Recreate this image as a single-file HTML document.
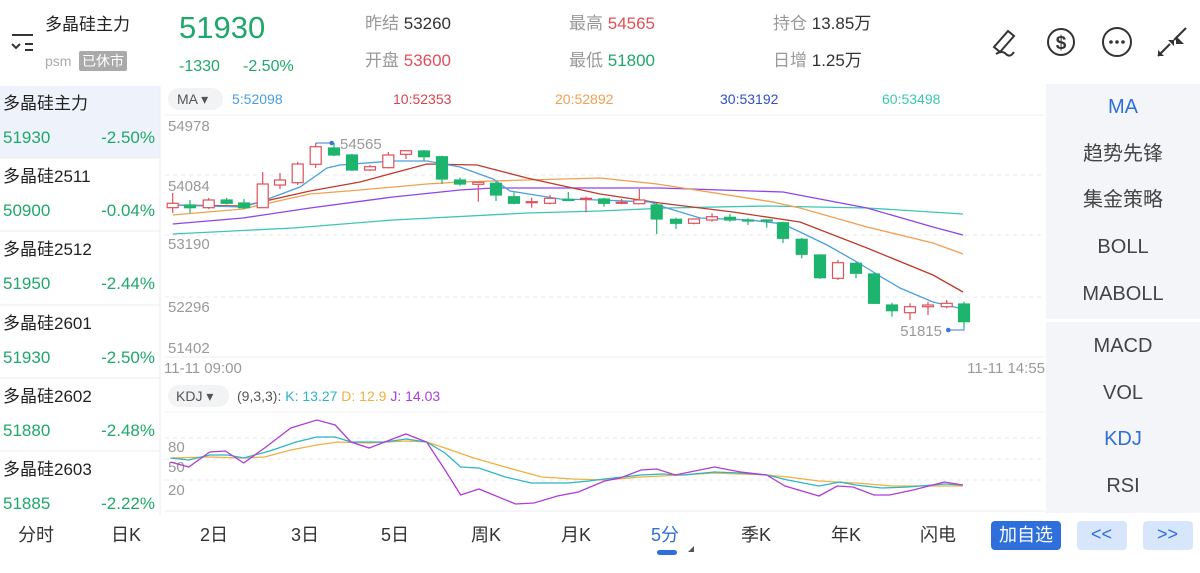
<!DOCTYPE html>
<html><head><meta charset="utf-8"><style>
*{margin:0;padding:0}
body{width:1200px;height:573px;background:#fff;overflow:hidden;position:relative;font-family:"Liberation Sans","Noto Sans CJK SC",sans-serif}
.a{position:absolute;white-space:nowrap;line-height:1}
</style></head><body>
<svg width="1200" height="573" style="position:absolute;left:0;top:0" font-family="Liberation Sans, Noto Sans CJK SC, sans-serif">
<!-- left list bg -->
<rect x="0" y="86" width="160" height="72" fill="#eef2fa"/>
<line x1="160" y1="86" x2="160" y2="515" stroke="#eceef2"/>
<g stroke="#eceef2"><line x1="0" y1="158" x2="160" y2="158"/><line x1="0" y1="231" x2="160" y2="231"/><line x1="0" y1="305" x2="160" y2="305"/><line x1="0" y1="378" x2="160" y2="378"/><line x1="0" y1="451" x2="160" y2="451"/></g>
<!-- right panel -->
<rect x="1046" y="84" width="154" height="235" fill="#f3f5f8"/>
<rect x="1046" y="322" width="154" height="191" fill="#f3f5f8"/>
<!-- grid main -->
<g stroke="#e8e8ec" stroke-dasharray="4,4"><line x1="165" y1="175" x2="1045" y2="175"/><line x1="165" y1="235" x2="1045" y2="235"/><line x1="165" y1="297" x2="1045" y2="297"/></g>
<line x1="165" y1="115" x2="1045" y2="115" stroke="#f0f0f2"/>
<line x1="165" y1="357" x2="1045" y2="357" stroke="#eceef2"/>
<!-- kdj grid -->
<line x1="165" y1="412" x2="1045" y2="412" stroke="#f0f0f2"/>
<g stroke="#e8e8ec" stroke-dasharray="4,4"><line x1="165" y1="438" x2="1045" y2="438"/><line x1="165" y1="459" x2="1045" y2="459"/><line x1="165" y1="480" x2="1045" y2="480"/></g>
<line x1="165" y1="511" x2="1045" y2="511" stroke="#eceef2"/>
<!-- MA lines -->
<g fill="none" stroke-width="1.3">
<polyline stroke="#3cc7b4" points="172.7,234 293,228 393,220 527,213 600,211 667,208 767,206 867,208 963,214"/>
<polyline stroke="#8e44ec" points="172.7,224 243,218 310,208 393,197 460,190 493,188 600,188 660,188 783,192 867,208 933,227 963,235"/>
<polyline stroke="#f0a050" points="172.7,215 243,209 260,205 310,194 360,190 427,184 460,182 527,180 600,178 657,184 773,202 800,208 867,227 933,243 963,254"/>
<polyline stroke="#c0392b" points="172.7,205 243,206 310,191 360,182 427,164 477,165 527,178 600,194 660,203 733,212 800,222 867,248 933,275 963,292"/>
<polyline stroke="#4a9fe0" points="172.7,205 243,207 260,202 300,187 327,168 340,165 393,161 427,161 460,167 493,179 510,191 560,199 600,200 650,202 667,208 700,218 750,220 783,224 800,232 827,245 857,262 883,278 900,288 933,302 963,309"/>
</g>
<!-- candles -->
<g id="c" stroke-width="1.2">
<g stroke="#e0505a" fill="#fff">
<line x1="172.7" y1="193" x2="172.7" y2="213"/><rect x="167.2" y="203.3" width="11" height="4.4"/>
<line x1="208.7" y1="198" x2="208.7" y2="209"/><rect x="203.2" y="200" width="11" height="7.7"/>
<line x1="262.7" y1="172" x2="262.7" y2="208"/><rect x="257.2" y="184" width="11" height="23.7"/>
<line x1="280" y1="173" x2="280" y2="189"/><rect x="274.5" y="180" width="11" height="5"/>
<line x1="297.7" y1="162" x2="297.7" y2="185"/><rect x="292.2" y="164" width="11" height="18.7"/>
<line x1="315.7" y1="143" x2="315.7" y2="168"/><rect x="310.2" y="146.7" width="11" height="17.6"/>
<line x1="370" y1="165" x2="370" y2="171"/><rect x="364.5" y="166.7" width="11" height="3.3"/>
<line x1="388.3" y1="152" x2="388.3" y2="168.3"/><rect x="382.8" y="155" width="11" height="12.7"/>
<line x1="406" y1="150" x2="406" y2="159"/><rect x="400.5" y="150.7" width="11" height="3.6"/>
<line x1="478.3" y1="182" x2="478.3" y2="201.7"/><rect x="472.8" y="182.3" width="11" height="2"/>
<line x1="531.7" y1="197.7" x2="531.7" y2="207.7"/><rect x="526.2" y="201.7" width="11" height="1"/>
<line x1="550" y1="195" x2="550" y2="204.3"/><rect x="544.5" y="198.3" width="11" height="5"/>
<line x1="586" y1="196.7" x2="586" y2="212.3"/><rect x="580.5" y="198.3" width="11" height="1"/>
<line x1="621.7" y1="199" x2="621.7" y2="204.3"/><rect x="616.2" y="202.3" width="11" height="1"/>
<line x1="639.3" y1="189" x2="639.3" y2="204.3"/><rect x="633.8" y="200" width="11" height="3.7"/>
<line x1="694" y1="218.3" x2="694" y2="224.3"/><rect x="688.5" y="219" width="11" height="4.3"/>
<line x1="712" y1="213.3" x2="712" y2="221.7"/><rect x="706.5" y="216.7" width="11" height="3.3"/>
<line x1="838" y1="260" x2="838" y2="280"/><rect x="832.5" y="262.7" width="11" height="15.6"/>
<line x1="910" y1="303.3" x2="910" y2="320"/><rect x="904.5" y="306.7" width="11" height="6"/>
<line x1="928" y1="301.7" x2="928" y2="315"/><rect x="922.5" y="305" width="11" height="1.7"/>
<line x1="946.7" y1="300" x2="946.7" y2="308.3"/><rect x="941.2" y="303.3" width="11" height="3.4"/>
</g>
<g stroke="#1db56e" fill="#1db56e">
<line x1="190" y1="200" x2="190" y2="213"/><rect x="184.5" y="205" width="11" height="2.7"/>
<line x1="226.7" y1="198" x2="226.7" y2="204.5"/><rect x="221.2" y="200" width="11" height="3.3"/>
<line x1="244" y1="199" x2="244" y2="209"/><rect x="238.5" y="203" width="11" height="4.7"/>
<line x1="334" y1="143" x2="334" y2="156"/><rect x="328.5" y="148" width="11" height="7"/>
<line x1="352" y1="154" x2="352" y2="171"/><rect x="346.5" y="155" width="11" height="15"/>
<line x1="424" y1="150" x2="424" y2="161"/><rect x="418.5" y="151" width="11" height="5.7"/>
<line x1="442" y1="155.7" x2="442" y2="184"/><rect x="436.5" y="156.7" width="11" height="22.3"/>
<line x1="460" y1="177.7" x2="460" y2="185.7"/><rect x="454.5" y="180" width="11" height="4"/>
<line x1="496" y1="182" x2="496" y2="201"/><rect x="490.5" y="183.3" width="11" height="11.7"/>
<line x1="514" y1="192.3" x2="514" y2="204.3"/><rect x="508.5" y="196.7" width="11" height="6.6"/>
<line x1="568.3" y1="192" x2="568.3" y2="201"/><rect x="562.8" y="199.5" width="11" height="1"/>
<line x1="604" y1="197.7" x2="604" y2="206.7"/><rect x="598.5" y="199" width="11" height="4.3"/>
<line x1="656.7" y1="203" x2="656.7" y2="234"/><rect x="651.2" y="205" width="11" height="14"/>
<line x1="676" y1="217.7" x2="676" y2="229"/><rect x="670.5" y="219.3" width="11" height="4"/>
<line x1="730" y1="214" x2="730" y2="221.7"/><rect x="724.5" y="217.3" width="11" height="2.7"/>
<line x1="748" y1="218.3" x2="748" y2="225"/><rect x="742.5" y="220" width="11" height="1"/>
<line x1="766.7" y1="219.3" x2="766.7" y2="227.7"/><rect x="761.2" y="220" width="11" height="1"/>
<line x1="783" y1="221.7" x2="783" y2="243"/><rect x="777.5" y="222.7" width="11" height="15.6"/>
<line x1="801.7" y1="238" x2="801.7" y2="258.3"/><rect x="796.2" y="239.3" width="11" height="15"/>
<line x1="820" y1="254.3" x2="820" y2="279"/><rect x="814.5" y="255" width="11" height="22.7"/>
<line x1="856" y1="262.3" x2="856" y2="278.3"/><rect x="850.5" y="263.3" width="11" height="10"/>
<line x1="874" y1="272.7" x2="874" y2="304"/><rect x="868.5" y="274" width="11" height="29.3"/>
<line x1="892" y1="302.7" x2="892" y2="316.7"/><rect x="886.5" y="305" width="11" height="5.7"/>
<line x1="964" y1="301.7" x2="964" y2="328.3"/><rect x="958.5" y="304" width="11" height="17.7"/>
</g>
</g>
<!-- markers -->
<polyline points="315.7,143 331.7,143" fill="none" stroke="#3a78d8"/><circle cx="331.7" cy="143" r="2.3" fill="#3a78d8"/>
<polyline points="964,328.3 964,330 948.3,330" fill="none" stroke="#3a78d8"/><circle cx="948.3" cy="330" r="2.3" fill="#3a78d8"/>
<text x="340" y="149" font-size="15" fill="#999">54565</text>
<text x="942" y="336" font-size="15" fill="#999" text-anchor="end">51815</text>
<!-- axis labels -->
<g font-size="15" fill="#999"><text x="168" y="131">54978</text><text x="168" y="191">54084</text><text x="168" y="249">53190</text><text x="168" y="312">52296</text><text x="168" y="353">51402</text>
<text x="164" y="373">11-11 09:00</text><text x="1045" y="373" text-anchor="end">11-11 14:55</text>
<text x="168" y="452">80</text><text x="168" y="472">50</text><text x="168" y="495">20</text></g>
<!-- KDJ lines -->
<g fill="none" stroke-width="1.3">
<polyline stroke="#f0b040" points="170.5,458 209.7,457 243.7,458 264.6,457 290.8,450 316.9,445 337.8,442 369.2,443 405.8,441 426.7,442 445,448 473.8,458 505.2,467 541.8,477 573.1,479 604.5,480 641.1,477 683,475 714.4,473 766.7,475 787.6,477 819,481 855.6,483 892.2,486 944.5,486 962.8,486"/>
<polyline stroke="#2ab5c8" points="170.5,458 188.8,460 209.7,455 228,455 243.7,458 269.8,451 296,442 316.9,437 335.2,437 350.9,442 384.9,442 405.8,439 426.7,442 445,453 460.7,467 479,468 505.2,477 531.3,483 567.9,483 588.9,481 604.5,479 641.1,475 662.1,474 683,475 714.4,472 740.5,473 766.7,475 787.6,480 819,486 839.9,482 855.6,485 881.7,488 907.9,487 944.5,484 962.8,485"/>
<polyline stroke="#b03cd8" points="170.5,462 188.8,467 209.7,452 225.4,451 243.7,463 264.6,448 290.8,428 316.9,420 335.2,425 350.9,442 369.2,448 405.8,434 426.7,442 445,470 460.7,495 479,489 515.6,504 534,503 557.5,496 578.4,492 604.5,481 620.2,478 641.1,470 656.8,469 675.2,475 714.4,467 740.5,472 766.7,475 785,486 819,496 837.3,486 853,487 873.9,495 889.6,495 913.1,490 944.5,482 962.8,485"/>
</g>
<!-- pills -->
<rect x="168" y="88" width="55" height="22" rx="11" fill="#f2f3f5"/>
<rect x="168" y="385" width="61" height="22" rx="11" fill="#f2f3f5"/>
<!-- bottom buttons -->
<rect x="991" y="521" width="70" height="29" rx="4" fill="#2e6fdb"/>
<rect x="1077" y="521" width="50" height="29" rx="4" fill="#d8e6fb"/>
<rect x="1143" y="521" width="50" height="29" rx="4" fill="#d8e6fb"/>
<rect x="657" y="550" width="20" height="5" rx="2.5" fill="#2e6fdb"/>
<polygon points="688,552 694,546 694,552" fill="#555"/>
<!-- header icons -->
<g stroke="#333" stroke-width="2" fill="none">
<line x1="12" y1="35" x2="33" y2="35"/><polyline points="12,44 16,48 20,44"/><line x1="25" y1="44" x2="33" y2="44"/><line x1="25" y1="50" x2="33" y2="50"/>
<path d="M994,47 L1008,31 L1014,36 L1000,52 Z M996,54 Q1002,50 1006,54 Q1010,58 1014,52"/>
<circle cx="1061" cy="42" r="13"/>
<circle cx="1117" cy="42" r="14"/>
<line x1="1158" y1="56" x2="1170" y2="44"/><line x1="1174" y1="40" x2="1186" y2="28"/>
</g>
<g fill="#333"><circle cx="1111" cy="42" r="1.8"/><circle cx="1117" cy="42" r="1.8"/><circle cx="1123" cy="42" r="1.8"/>
<polygon points="1168,40 1174,40 1174,46"/><polygon points="1158,56 1158,50 1164,56"/><polygon points="1176,44 1176,36 1184,44"/></g>
<text x="1061" y="49" font-size="19" text-anchor="middle" fill="#333" font-weight="bold">$</text>
</svg>

<!-- header -->
<div class="a" style="left:45px;top:16px;font-size:17px;color:#222">多晶硅主力</div>
<div class="a" style="left:45px;top:54px;font-size:14px;color:#aaa">psm</div>
<div class="a" style="left:79px;top:51px;font-size:14px;color:#fff;background:#aaa;padding:3px 3px;border-radius:2px">已休市</div>
<div class="a" style="left:179px;top:12px;font-size:31px;color:#1fa86a">51930</div>
<div class="a" style="left:179px;top:59px;font-size:16px;color:#1fa86a">-1330</div>
<div class="a" style="left:243px;top:59px;font-size:16px;color:#1fa86a">-2.50%</div>
<div class="a" style="left:365px;top:15px;font-size:17px;color:#999">昨结 <span style="color:#333">53260</span></div>
<div class="a" style="left:365px;top:52px;font-size:17px;color:#999">开盘 <span style="color:#e0505a">53600</span></div>
<div class="a" style="left:569px;top:15px;font-size:17px;color:#999">最高 <span style="color:#e0505a">54565</span></div>
<div class="a" style="left:569px;top:52px;font-size:17px;color:#999">最低 <span style="color:#1fa86a">51800</span></div>
<div class="a" style="left:773px;top:15px;font-size:17px;color:#999">持仓 <span style="color:#333">13.85万</span></div>
<div class="a" style="left:773px;top:52px;font-size:17px;color:#999">日增 <span style="color:#333">1.25万</span></div>

<!-- left list -->
<div style="position:absolute;left:3px;top:95px;width:152px;font-size:17px;color:#222">
<div style="height:73px;position:relative"><div class="a" style="top:0">多晶硅主力</div><div class="a" style="top:34px;color:#1fa86a">51930</div><div class="a" style="top:34px;right:0;color:#1fa86a">-2.50%</div></div>
<div style="height:73px;position:relative"><div class="a" style="top:0">多晶硅2511</div><div class="a" style="top:34px;color:#1fa86a">50900</div><div class="a" style="top:34px;right:0;color:#1fa86a">-0.04%</div></div>
<div style="height:74px;position:relative"><div class="a" style="top:0">多晶硅2512</div><div class="a" style="top:34px;color:#1fa86a">51950</div><div class="a" style="top:34px;right:0;color:#1fa86a">-2.44%</div></div>
<div style="height:73px;position:relative"><div class="a" style="top:0">多晶硅2601</div><div class="a" style="top:34px;color:#1fa86a">51930</div><div class="a" style="top:34px;right:0;color:#1fa86a">-2.50%</div></div>
<div style="height:73px;position:relative"><div class="a" style="top:0">多晶硅2602</div><div class="a" style="top:34px;color:#1fa86a">51880</div><div class="a" style="top:34px;right:0;color:#1fa86a">-2.48%</div></div>
<div style="height:73px;position:relative"><div class="a" style="top:0">多晶硅2603</div><div class="a" style="top:34px;color:#1fa86a">51885</div><div class="a" style="top:34px;right:0;color:#1fa86a">-2.22%</div></div>
</div>

<!-- chart headers -->
<div class="a" style="left:177px;top:92px;font-size:14px;color:#555">MA ▾</div>
<div class="a" style="left:232px;top:92px;font-size:14px;color:#4a9fe0">5:52098</div>
<div class="a" style="left:393px;top:92px;font-size:14px;color:#d9444c">10:52353</div>
<div class="a" style="left:555px;top:92px;font-size:14px;color:#f0a050">20:52892</div>
<div class="a" style="left:720px;top:92px;font-size:14px;color:#2d4fc8">30:53192</div>
<div class="a" style="left:882px;top:92px;font-size:14px;color:#3cc7b4">60:53498</div>
<div class="a" style="left:176px;top:389px;font-size:14px;color:#555">KDJ ▾</div>
<div class="a" style="left:237px;top:389px;font-size:14px;color:#555">(9,3,3): <span style="color:#2ab5c8">K: 13.27</span> <span style="color:#f0b040">D: 12.9</span> <span style="color:#b03cd8">J: 14.03</span></div>

<!-- right panel -->
<div style="position:absolute;left:1046px;width:154px;top:0;font-size:20px;color:#444;text-align:center">
<div class="a" style="width:154px;top:97px;color:#2e6fdb">MA</div>
<div class="a" style="width:154px;top:144px">趋势先锋</div>
<div class="a" style="width:154px;top:190px">集金策略</div>
<div class="a" style="width:154px;top:237px">BOLL</div>
<div class="a" style="width:154px;top:284px">MABOLL</div>
<div class="a" style="width:154px;top:336px">MACD</div>
<div class="a" style="width:154px;top:383px">VOL</div>
<div class="a" style="width:154px;top:429px;color:#2e6fdb">KDJ</div>
<div class="a" style="width:154px;top:476px">RSI</div>
</div>

<!-- bottom tabs -->
<div style="font-size:18px;color:#333">
<div class="a" style="left:18px;top:526px">分时</div>
<div class="a" style="left:111px;top:526px">日K</div>
<div class="a" style="left:200px;top:526px">2日</div>
<div class="a" style="left:291px;top:526px">3日</div>
<div class="a" style="left:381px;top:526px">5日</div>
<div class="a" style="left:471px;top:526px">周K</div>
<div class="a" style="left:561px;top:526px">月K</div>
<div class="a" style="left:651px;top:526px;color:#2e6fdb">5分</div>
<div class="a" style="left:741px;top:526px">季K</div>
<div class="a" style="left:831px;top:526px">年K</div>
<div class="a" style="left:920px;top:526px">闪电</div>
<div class="a" style="left:999px;top:526px;color:#fff">加自选</div>
<div class="a" style="left:1091px;top:525px;color:#2e6fdb">&lt;&lt;</div>
<div class="a" style="left:1157px;top:525px;color:#2e6fdb">&gt;&gt;</div>
</div>
</body></html>
